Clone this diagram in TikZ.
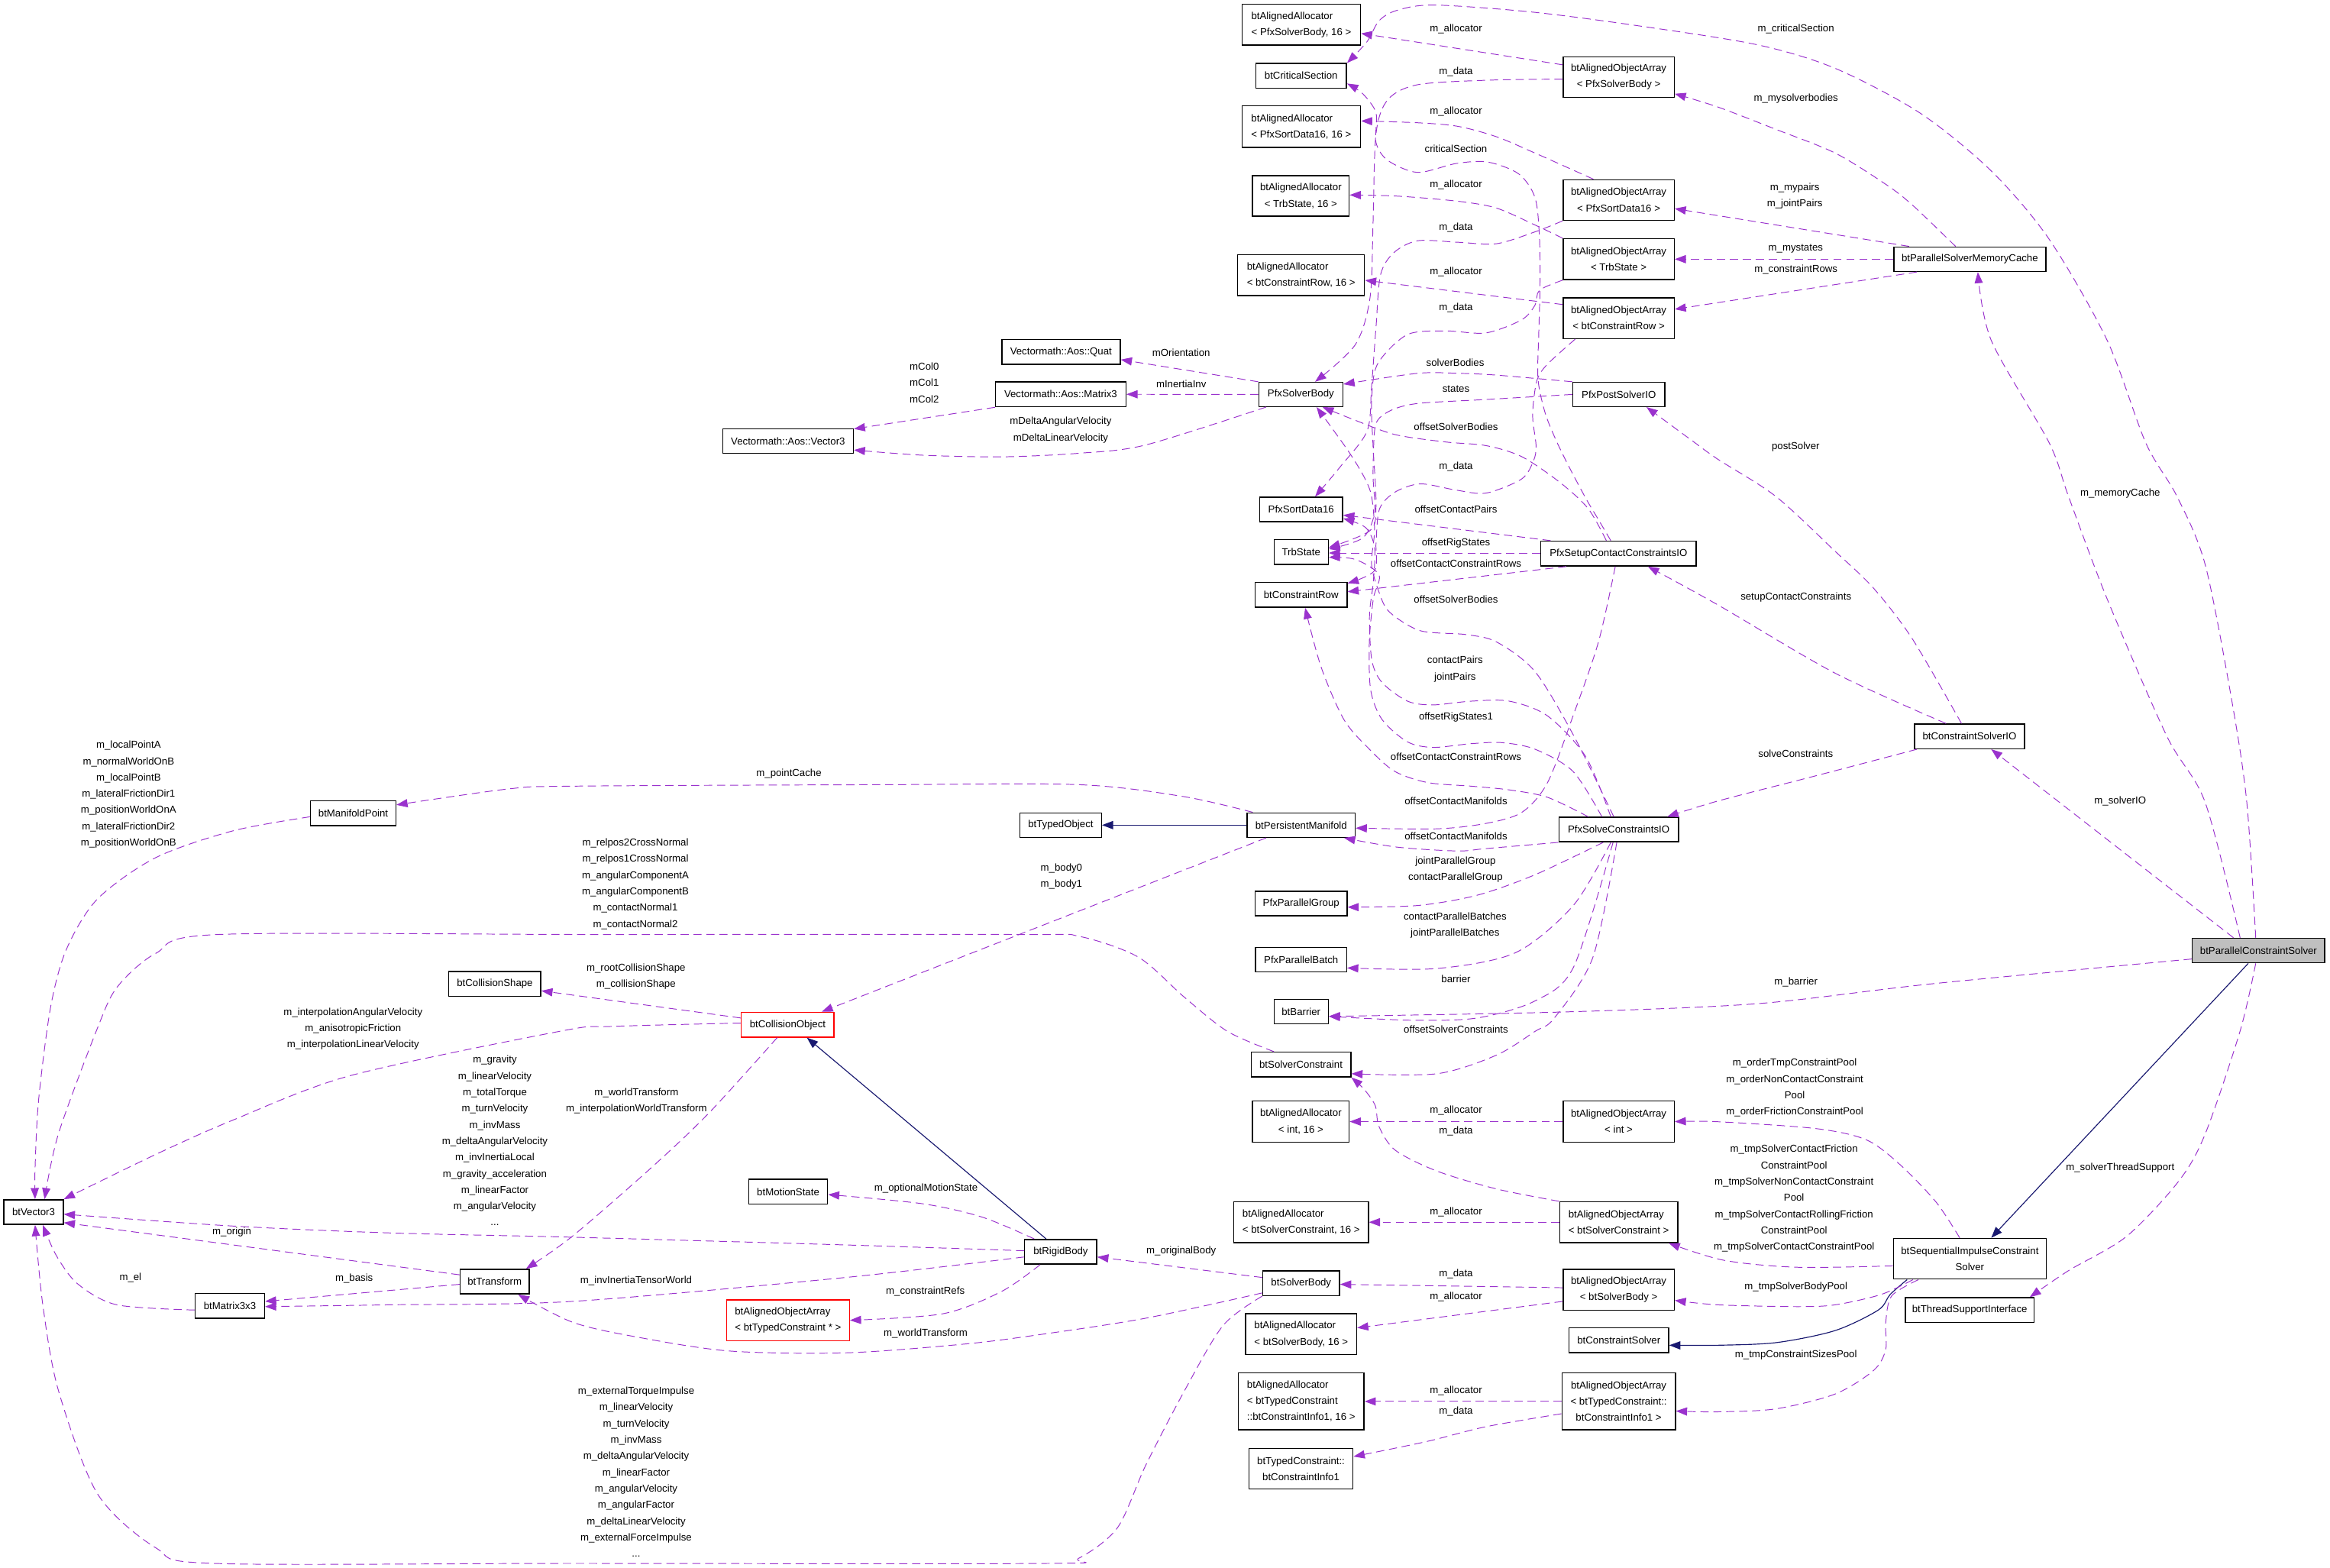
\documentclass[tikz,border=0pt]{standalone}
\usepackage{fontspec}
\setmainfont{Liberation Sans}
\usetikzlibrary{arrows.meta}
\definecolor{epurple}{HTML}{9A32CD}
\definecolor{enavy}{HTML}{191970}
\definecolor{ngray}{HTML}{BFBFBF}
\newcommand{\dxf}{\fontsize{6.8}{10.95}\selectfont}
\tikzset{
 cls/.style={draw=black, line width=0.75pt, fill=white, inner sep=0pt, font=\dxf, align=center},
 redcls/.style={cls, draw=red},
 rel/.style={draw=epurple, line width=0.5pt, dash pattern=on 5.5pt off 3.2pt, -{Triangle[length=7.5pt,width=5.5pt]}},
 inh/.style={draw=enavy, line width=0.6pt, -{Triangle[length=7.5pt,width=5.5pt]}},
 lbl/.style={font=\dxf, inner sep=0pt, align=center},
}
\begin{document}
\begin{tikzpicture}[x=1pt,y=-1pt]
\useasboundingbox (0,0) rectangle (1568,1055);
% ---------- nodes ----------
\node[cls,minimum width=79.7pt,minimum height=27.5pt,align=left] (allocPSB) at (875.7,16.6) {btAlignedAllocator\\< PfxSolverBody, 16 >};
\node[cls,minimum width=61.1pt,minimum height=16.5pt] (critSec) at (875.6,51.0) {btCriticalSection};
\node[cls,minimum width=79.7pt,minimum height=27.8pt,align=left] (allocPSD) at (875.7,85.2) {btAlignedAllocator\\< PfxSortData16, 16 >};
\node[cls,minimum width=65.0pt,minimum height=27.3pt] (allocTrb) at (875.4,131.8) {btAlignedAllocator\\< TrbState, 16 >};
\node[cls,minimum width=85.3pt,minimum height=27.5pt,align=left] (allocCR) at (875.6,185.2) {btAlignedAllocator\\< btConstraintRow, 16 >};
\node[cls,minimum width=56.6pt,minimum height=16.3pt] (psb) at (875.4,265.4) {PfxSolverBody};
\node[cls,minimum width=55.9pt,minimum height=16.5pt] (psd) at (875.6,342.8) {PfxSortData16};
\node[cls,minimum width=36.5pt,minimum height=16.8pt] (trb) at (875.6,371.5) {TrbState};
\node[cls,minimum width=61.7pt,minimum height=16.6pt] (cr) at (875.6,400.3) {btConstraintRow};
\node[cls,minimum width=74.7pt,minimum height=27.3pt] (arrPSB) at (1089.3,51.8) {btAlignedObjectArray\\< PfxSolverBody >};
\node[cls,minimum width=74.7pt,minimum height=27.3pt] (arrPSD) at (1089.3,134.6) {btAlignedObjectArray\\< PfxSortData16 >};
\node[cls,minimum width=74.7pt,minimum height=27.5pt] (arrTrb) at (1089.3,174.4) {btAlignedObjectArray\\< TrbState >};
\node[cls,minimum width=74.7pt,minimum height=27.5pt] (arrCR) at (1089.3,214.1) {btAlignedObjectArray\\< btConstraintRow >};
\node[cls,minimum width=61.9pt,minimum height=16.3pt] (post) at (1089.4,265.4) {PfxPostSolverIO};
\node[cls,minimum width=102.3pt,minimum height=16.5pt] (cache) at (1325.6,174.4) {btParallelSolverMemoryCache};
\node[cls,minimum width=79.7pt,minimum height=16.7pt] (quat) at (714.0,236.7) {Vectormath::Aos::Quat};
\node[cls,minimum width=87.8pt,minimum height=16.8pt] (mat3) at (713.8,265.3) {Vectormath::Aos::Matrix3};
\node[cls,minimum width=87.9pt,minimum height=16.5pt] (vec3) at (530.3,296.9) {Vectormath::Aos::Vector3};
\node[cls,minimum width=104.6pt,minimum height=16.7pt] (setup) at (1089.2,372.5) {PfxSetupContactConstraintsIO};
\node[cls,minimum width=72.7pt,minimum height=16.5pt] (pm) at (875.6,555.2) {btPersistentManifold};
\node[cls,minimum width=80.5pt,minimum height=16.5pt] (solve) at (1089.3,558.2) {PfxSolveConstraintsIO};
\node[cls,minimum width=61.7pt,minimum height=16.5pt] (pg) at (875.6,608.0) {PfxParallelGroup};
\node[cls,minimum width=61.2pt,minimum height=16.5pt] (pb) at (875.6,645.8) {PfxParallelBatch};
\node[cls,minimum width=36.5pt,minimum height=16.5pt] (barrier) at (875.6,680.7) {btBarrier};
\node[cls,minimum width=54.8pt,minimum height=16.5pt] (typed) at (713.8,555.2) {btTypedObject};
\node[redcls,minimum width=62.4pt,minimum height=16.7pt] (colObj) at (530.1,689.5) {btCollisionObject};
\node[cls,minimum width=57.4pt,minimum height=16.5pt] (mp) at (237.7,547.2) {btManifoldPoint};
\node[cls,minimum width=61.9pt,minimum height=16.7pt] (colShape) at (333.0,662.0) {btCollisionShape};
\node[cls,minimum width=74.2pt,minimum height=16.6pt] (csio) at (1325.4,495.5) {btConstraintSolverIO};
\node[cls,fill=ngray,minimum width=89.1pt,minimum height=16.5pt] (pcs) at (1519.9,639.6) {btParallelConstraintSolver};
\node[cls,minimum width=39.9pt,minimum height=16.6pt] (vec) at (22.6,815.6) {btVector3};
\node[cls,minimum width=46.6pt,minimum height=16.6pt] (m33) at (154.7,878.7) {btMatrix3x3};
\node[cls,minimum width=46.5pt,minimum height=16.6pt] (tf) at (332.9,862.4) {btTransform};
\node[cls,minimum width=53.0pt,minimum height=16.8pt] (ms) at (530.4,801.9) {btMotionState};
\node[cls,minimum width=48.5pt,minimum height=16.6pt] (rb) at (713.8,842.3) {btRigidBody};
\node[redcls,minimum width=82.6pt,minimum height=27.6pt,align=left] (arrTCp) at (530.3,888.4) {btAlignedObjectArray\\< btTypedConstraint * >};
\node[cls,minimum width=67.1pt,minimum height=16.6pt] (sc) at (875.5,716.3) {btSolverConstraint};
\node[cls,minimum width=65.0pt,minimum height=27.5pt] (allocInt) at (875.4,754.7) {btAlignedAllocator\\< int, 16 >};
\node[cls,minimum width=74.7pt,minimum height=27.5pt] (arrInt) at (1089.3,754.7) {btAlignedObjectArray\\< int >};
\node[cls,minimum width=90.5pt,minimum height=27.4pt,align=left] (allocSC) at (875.6,822.4) {btAlignedAllocator\\< btSolverConstraint, 16 >};
\node[cls,minimum width=79.5pt,minimum height=27.4pt,align=left] (arrSC) at (1089.3,822.4) {btAlignedObjectArray\\< btSolverConstraint >};
\node[cls,minimum width=51.7pt,minimum height=16.6pt] (sb) at (875.6,863.5) {btSolverBody};
\node[cls,minimum width=74.7pt,minimum height=27.4pt] (arrSB) at (1089.3,867.8) {btAlignedObjectArray\\< btSolverBody >};
\node[cls,minimum width=74.7pt,minimum height=27.5pt,align=left] (allocSB) at (875.6,897.8) {btAlignedAllocator\\< btSolverBody, 16 >};
\node[cls,minimum width=67.1pt,minimum height=16.6pt] (cs) at (1089.4,901.8) {btConstraintSolver};
\node[cls,minimum width=84.7pt,minimum height=38.5pt,align=left] (allocTC) at (875.6,942.9) {btAlignedAllocator\\< btTypedConstraint\\::btConstraintInfo1, 16 >};
\node[cls,minimum width=76.3pt,minimum height=38.5pt] (arrTC) at (1089.3,942.9) {btAlignedObjectArray\\< btTypedConstraint::\\btConstraintInfo1 >};
\node[cls,minimum width=70.0pt,minimum height=27.4pt] (tci) at (875.5,988.3) {btTypedConstraint::\\btConstraintInfo1};
\node[cls,minimum width=102.8pt,minimum height=27.4pt] (sics) at (1325.6,847.0) {btSequentialImpulseConstraint\\Solver};
\node[cls,minimum width=86.7pt,minimum height=16.6pt] (tsi) at (1325.5,881.5) {btThreadSupportInterface};
% ---------- edges ----------
\draw[rel] (arrPSB.west |- 0,43.6) -- (allocPSB.east |- 0,22.5);
\draw[rel] plot[smooth] coordinates {(arrPSB.west |- 0,53.2) (1000,54) (954,57) (934,67) (926,90) (924,150) (922,200) (912,232) (psb.north -| 885,0)};
\draw[rel] plot[smooth] coordinates {(arrPSD.north -| 1072.3,0) (1033,103) (1007,92) (981,85) (954,82.6) (allocPSD.east |- 0,81.4)};
\draw[rel] plot[smooth] coordinates {(arrPSD.south west) (1033,156) (1007,164) (981,163) (954,162) (938,170) (929,185) (926,220) (923,260) (920,290) (902,314) (psd.north -| 885,0)};
\draw[rel] plot[smooth] coordinates {(arrTrb.north west) (1033,151.4) (1007,140) (981,135.4) (941,132) (allocTrb.east |- 0,131.2)};
\draw[rel] plot[smooth] coordinates {(arrTrb.south west) (1036,195.3) (1033,205.3) (1024,215.2) (1000,224) (973,222.7) (947,225.2) (927,245) (923,270) (924,300) (926,340) (922,357) (trb.east |- 0,368.4)};
\draw[rel] (arrCR.west |- 0,204.9) -- (allocCR.east |- 0,188.6);
\draw[rel] plot[smooth] coordinates {(arrCR.south -| 1060,0) (1041.4,245) (1034.6,255) (1032,270) (1031.5,282.5) (1033.7,300) (1032,310) (1024,322.3) (1000,331.8) (980,329.8) (956,325.6) (939,331) (928.4,342.3) (926,365) (925,384) (cr.east |- 0,392.5)};
\draw[rel] plot[smooth] coordinates {(cache.north -| 1316,0) (1287,138) (1269,124) (1235,103) (1195,87) (1156,72) (arrPSB.east |- 0,63.1)};
\draw[rel] (cache.north -| 1284.7,0) -- (arrPSD.east |- 0,140.4);
\draw[rel] (cache.west) -- (arrTrb.east);
\draw[rel] (cache.south -| 1290,0) -- (arrCR.east |- 0,208.1);
\draw[rel] plot[smooth] coordinates {(pcs.north -| 1518,0) (1512,540) (1502,472) (1484,380) (1465,334) (1444,298) (1418,229) (1379,161) (1340,115) (1292,76) (1235,46) (1182,30) (1100,17) (1030,8) (965,3.4) (940,7) (928,14) (920,28) (critSec.north east)};
\draw[rel] plot[smooth] coordinates {(setup.north -| 1084,0) (1075.7,349.7) (1067,335) (1055,312.4) (1046.6,295) (1039.7,277.5) (1035,255) (1035.5,225) (1036.3,195) (1036,160) (1033,133) (1022,117) (1001,109) (980,110) (954,116) (934,108) (926,96) (926,76) (917,63) (critSec.east |- 0,56.2)};
\draw[rel] plot[smooth] coordinates {(csio.north -| 1320,0) (1287,430) (1261,396) (1235,371) (1195,334) (1156,309) (1138,296) (post.south -| 1108,0)};
\draw[rel] plot[smooth] coordinates {(csio.north -| 1309.6,0) (1235,453) (1156,407) (setup.south -| 1109,0)};
\draw[rel] plot[smooth] coordinates {(csio.south -| 1290,0) (1222,522) (1156,539) (solve.north -| 1122,0)};
\draw[rel] plot[smooth] coordinates {(pcs.north -| 1507.5,0) (1484,540) (1458,495) (1418,403) (1392,334) (1379,298) (1340,229) (cache.south -| 1331,0)};
\draw[rel] (pcs.north -| 1503,0) -- (csio.south -| 1340,0);
\draw[rel] plot[smooth] coordinates {(pcs.west |- 0,645.3) (1300,662) (1182,675.4) (1050,681) (barrier.east |- 0,683.9)};
\draw[rel] plot[smooth] coordinates {(pcs.south -| 1518,0) (1507.5,693.7) (1484,763) (1466,795) (1431,832) (1392,855) (tsi.north -| 1366,0)};
\draw[inh] (pcs.south -| 1513,0) -- (sics.north -| 1340,0);
\draw[inh] plot[smooth] coordinates {(sics.south -| 1283.4,0) (1272,871) (1264,881.5) (1235,895.3) (1195.5,903.4) (1156,905.2) (cs.east |- 0,905.2)};
\draw[rel] plot[smooth] coordinates {(sics.north -| 1318.8,0) (1303,809) (1279,784) (1256,767) (1222,759.4) (1156,754.8) (arrInt.east |- 0,754.7)};
\draw[rel] plot[smooth] coordinates {(sics.west |- 0,851.8) (1209,852.7) (1160,848) (arrSC.south -| 1123,0)};
\draw[rel] plot[smooth] coordinates {(sics.south -| 1287.3,0) (1266,871) (1235,878) (1209,879.2) (1156,878) (arrSB.east |- 0,875)};
\draw[rel] plot[smooth] coordinates {(sics.south -| 1291,0) (1273,872) (1269,890) (1269,908) (1261,922) (1235,938) (1195,948) (1156,950) (arrTC.east |- 0,949.5)};
\draw[rel] (arrInt.west) -- (allocInt.east);
\draw[rel] plot[smooth] coordinates {(arrSC.north west) (1007,800) (967,788) (939,774) (928,758) (925.5,744) (918,733) (sc.south east)};
\draw[rel] (arrSC.west) -- (allocSC.east);
\draw[rel] (arrSB.west |- 0,866.5) -- (sb.east |- 0,864.2);
\draw[rel] (arrSB.west |- 0,875.7) -- (allocSB.east |- 0,893.5);
\draw[rel] (arrTC.west |- 0,943) -- (allocTC.east |- 0,943);
\draw[rel] plot[smooth] coordinates {(arrTC.west |- 0,951.3) (1000,960) (960,970) (tci.east |- 0,980.1)};
\draw[rel] (setup.north -| 1043.5,0) -- (psd.east |- 0,346.6);
\draw[rel] (setup.west |- 0,372.1) -- (trb.east |- 0,372.1);
\draw[rel] (setup.south -| 1054,0) -- (cr.east |- 0,398.2);
\draw[rel] plot[smooth] coordinates {(setup.north -| 1081,0) (1068.8,342.3) (1050,324.8) (1024.3,307.4) (1000.3,299.9) (972.9,297.4) (938.7,292.4) (910,282) (psb.south -| 890,0)};
\draw[rel] plot[smooth] coordinates {(setup.south -| 1087,0) (1075.7,431.9) (1058.6,481.7) (1041.4,526.6) (1024.3,546.5) (1000.3,554) (967,557.7) (pm.east |- 0,557.2)};
\draw[rel] plot[smooth] coordinates {(solve.north -| 1086,0) (1058.6,494.2) (1032.9,451.8) (1007.2,432) (986.6,427) (955.8,424.4) (935.2,412) (928.4,399.5) (923,380) (925,357) (923,334) (918,321) (907,303) (psb.south -| 886,0)};
\draw[rel] plot[smooth] coordinates {(solve.north -| 1084,0) (1067.1,509.1) (1041.4,481.7) (1015.7,471.8) (990,471.8) (964.4,474.3) (947.2,471.8) (930.1,459.3) (923.2,444.4) (921.6,414.3) (924.2,391.4) (925,368.4) (919,355) (psd.east |- 0,348.9)};
\draw[rel] plot[smooth] coordinates {(solve.north -| 1078,0) (1058.6,519.1) (1032.9,504.1) (1010.6,499.7) (990,500.4) (964.4,502.9) (947.2,499.2) (930.1,484.2) (922.4,464.3) (921.5,431.9) (924.2,402.8) (928,386.8) (912,376.4) (trb.east |- 0,375)};
\draw[rel] plot[smooth] coordinates {(solve.north -| 1068.8,0) (1041.4,536.5) (1015.7,531.5) (990,529) (960.9,526.6) (938.7,519.1) (921.5,504.1) (904.4,484.2) (889,448.7) (cr.south -| 878.3,0)};
\draw[rel] plot[smooth] coordinates {(solve.south west) (1000,571) (980.6,572.6) (940,570) (pm.south -| 904.5,0)};
\draw[rel] plot[smooth] coordinates {(solve.south -| 1078.9,0) (1033,588.6) (994,602.4) (954,609.3) (pg.east |- 0,610.4)};
\draw[rel] plot[smooth] coordinates {(solve.south -| 1084,0) (1059,609) (1020,641) (967,651.7) (pb.east |- 0,651.3)};
\draw[rel] plot[smooth] coordinates {(solve.south -| 1085.5,0) (1059,650.6) (1033,673.5) (994,685) (950,686.5) (barrier.east |- 0,683.9)};
\draw[rel] plot[smooth] coordinates {(solve.south -| 1088,0) (1072,644) (1046,685) (1033,694) (1007,710) (967,722.5) (sc.east |- 0,722.5)};
\draw[rel] plot[smooth] coordinates {(post.north west) (1007,252.4) (981,251.2) (954,251.2) (psb.east |- 0,258.5)};
\draw[rel] plot[smooth] coordinates {(post.west) (1000.3,268.8) (955.8,271.3) (938.7,275) (928.4,281.2) (925,290) (924,320) (925,345) (917,362) (trb.east |- 0,369.5)};
\draw[inh] (pm.west) -- (typed.east);
\draw[rel] plot[smooth] coordinates {(pm.north -| 843,0) (796.5,536) (726,528) (595,528) (385,529) (341,531) (mp.east |- 0,541.6)};
\draw[rel] (pm.south -| 852,0) -- (colObj.north -| 553,0);
\draw[rel] plot[smooth] coordinates {(mp.west |- 0,549.6) (157,559) (105,577) (65.5,605) (44.6,639) (34,678) (26,740) (23.6,786) (vec.north -| 23.6,0)};
\draw[rel] plot[smooth] coordinates {(sc.north -| 857.3,0) (826,694) (797,671) (766,644) (726,630) (687,628.8) (400,628.8) (147,628.8) (105,641.4) (79,664) (65.5,692) (39.3,763) (vec.north -| 30,0)};
\draw[rel] (colObj.west |- 0,685) -- (colShape.east |- 0,666.7);
\draw[rel] plot[smooth] coordinates {(colObj.west |- 0,688.4) (411,690.7) (378,693.7) (236,723.7) (157,753.6) (105,776.7) (vec.north east)};
\draw[rel] plot[smooth] coordinates {(colObj.south -| 523,0) (477,749) (438,786) (385,832) (tf.north -| 354,0)};
\draw[inh] (rb.north -| 704,0) -- (colObj.south -| 543,0);
\draw[rel] plot[smooth] coordinates {(rb.north -| 696,0) (661,819) (621,810) (ms.east |- 0,803.8)};
\draw[rel] plot[smooth] coordinates {(rb.west |- 0,841.6) (569,837.7) (385,832.5) (262,829.6) (157,825) (vec.east |- 0,817)};
\draw[rel] plot[smooth] coordinates {(rb.west |- 0,845.8) (569,859.6) (385,875.7) (262,878) (m33.east |- 0,879.2)};
\draw[rel] plot[smooth] coordinates {(rb.south -| 700,0) (674,869) (634.5,884) (arrTCp.east |- 0,888.4)};
\draw[rel] (tf.west |- 0,857.8) -- (vec.east |- 0,822.7);
\draw[rel] (tf.west |- 0,864.2) -- (m33.east |- 0,875.7);
\draw[rel] plot[smooth] coordinates {(m33.west |- 0,881.5) (78.7,878) (52.4,864) (38,845) (vec.south -| 28.8,0)};
\draw[rel] (sb.west |- 0,859.6) -- (rb.east |- 0,845.8);
\draw[rel] plot[smooth] coordinates {(sb.west |- 0,870) (771,887) (700,898) (648,904.5) (569,910.3) (490,909) (425,899) (385,889.6) (tf.south -| 348.7,0)};
\draw[rel] plot[smooth] coordinates {(sb.south west) (823,892) (797,936) (771,986) (752,1028) (726,1048.5) (705,1052) (385,1052) (144,1052) (105,1041.6) (65.5,1005) (39.3,935.6) (28.8,878) (vec.south -| 23.6,0)};
\draw[rel] (psb.north west) -- (quat.east |- 0,242);
\draw[rel] (psb.west) -- (mat3.east);
\draw[rel] plot[smooth] coordinates {(psb.south -| 852,0) (771,299.4) (726,305) (674,307.4) (621,306.3) (vec3.east |- 0,302.8)};
\draw[rel] (mat3.south west) -- (vec3.east |- 0,288.6);
% ---------- labels ----------
\node[lbl] (L1) at (979.8,19.3) {m\_allocator};
\node[lbl] (L2) at (979.8,48.2) {m\_data};
\node[lbl] (L3) at (979.8,74.8) {m\_allocator};
\node[lbl] (L4) at (979.8,100.0) {criticalSection};
\node[lbl] (L5) at (979.8,124.6) {m\_allocator};
\node[lbl] (L6) at (979.8,153.2) {m\_data};
\node[lbl] (L7) at (979.8,183.1) {m\_allocator};
\node[lbl] (L8) at (979.8,206.9) {m\_data};
\node[lbl] (L9) at (979.3,243.9) {solverBodies};
\node[lbl] (L10) at (979.8,261.8) {states};
\node[lbl] (L11) at (979.8,287.0) {offsetSolverBodies};
\node[lbl] (L12) at (979.8,313.8) {m\_data};
\node[lbl] (L13) at (979.8,342.5) {offsetContactPairs};
\node[lbl] (L14) at (979.8,365.2) {offsetRigStates};
\node[lbl] (L15) at (979.8,379.0) {offsetContactConstraintRows};
\node[lbl] (L16) at (979.8,403.1) {offsetSolverBodies};
\node[lbl] (L17) at (979.2,450.2) {contactPairs\\jointPairs};
\node[lbl] (L18) at (979.8,482.4) {offsetRigStates1};
\node[lbl] (L19) at (979.8,509.0) {offsetContactConstraintRows};
\node[lbl] (L20) at (979.8,538.9) {offsetContactManifolds};
\node[lbl] (L21) at (979.8,562.5) {offsetContactManifolds};
\node[lbl] (L22) at (979.5,585.3) {jointParallelGroup\\contactParallelGroup};
\node[lbl] (L23) at (979.2,622.7) {contactParallelBatches\\jointParallelBatches};
\node[lbl] (L24) at (979.8,658.8) {barrier};
\node[lbl] (L25) at (979.8,692.5) {offsetSolverConstraints};
\node[lbl] (L26) at (979.8,747.4) {m\_allocator};
\node[lbl] (L27) at (979.8,761.2) {m\_data};
\node[lbl] (L28) at (979.8,815.4) {m\_allocator};
\node[lbl] (L29) at (979.8,857.3) {m\_data};
\node[lbl] (L30) at (979.8,872.7) {m\_allocator};
\node[lbl] (L31) at (979.8,936.1) {m\_allocator};
\node[lbl] (L32) at (979.8,949.9) {m\_data};
\node[lbl] (L33) at (794.9,237.2) {mOrientation};
\node[lbl] (L34) at (794.9,258.3) {mInertiaInv};
\node[lbl] (L35) at (622,257.6) {mCol0\\mCol1\\mCol2};
\node[lbl] (L36) at (713.8,289.4) {mDeltaAngularVelocity\\mDeltaLinearVelocity};
\node[lbl] (L37) at (1208.6,19.3) {m\_criticalSection};
\node[lbl] (L38) at (1208.6,66.1) {m\_mysolverbodies};
\node[lbl] (L39) at (1207.8,131.8) {m\_mypairs\\m\_jointPairs};
\node[lbl] (L40) at (1208.4,167.5) {m\_mystates};
\node[lbl] (L41) at (1208.6,181.2) {m\_constraintRows};
\node[lbl] (L42) at (1208.4,300.5) {postSolver};
\node[lbl] (L43) at (1426.8,332.0) {m\_memoryCache};
\node[lbl] (L44) at (1208.6,402.1) {setupContactConstraints};
\node[lbl] (L45) at (1208.4,507.0) {solveConstraints};
\node[lbl] (L46) at (1426.8,539.3) {m\_solverIO};
\node[lbl] (L47) at (1208.6,661.1) {m\_barrier};
\node[lbl] (L48) at (1207.8,732.0) {m\_orderTmpConstraintPool\\m\_orderNonContactConstraint\\Pool\\m\_orderFrictionConstraintPool};
\node[lbl] (L49) at (1207.3,806.5) {m\_tmpSolverContactFriction\\ConstraintPool\\m\_tmpSolverNonContactConstraint\\Pool\\m\_tmpSolverContactRollingFriction\\ConstraintPool\\m\_tmpSolverContactConstraintPool};
\node[lbl] (L50) at (1208.6,866.0) {m\_tmpSolverBodyPool};
\node[lbl] (L51) at (1208.6,911.9) {m\_tmpConstraintSizesPool};
\node[lbl] (L52) at (1426.8,785.9) {m\_solverThreadSupport};
\node[lbl] (L53) at (86.5,534.6) {m\_localPointA\\m\_normalWorldOnB\\m\_localPointB\\m\_lateralFrictionDir1\\m\_positionWorldOnA\\m\_lateralFrictionDir2\\m\_positionWorldOnB};
\node[lbl] (L54) at (530.9,520.7) {m\_pointCache};
\node[lbl] (L55) at (427.6,594.8) {m\_relpos2CrossNormal\\m\_relpos1CrossNormal\\m\_angularComponentA\\m\_angularComponentB\\m\_contactNormal1\\m\_contactNormal2};
\node[lbl] (L56) at (714.3,589.9) {m\_body0\\m\_body1};
\node[lbl] (L57) at (428,657.1) {m\_rootCollisionShape\\m\_collisionShape};
\node[lbl] (L58) at (237.6,692.3) {m\_interpolationAngularVelocity\\m\_anisotropicFriction\\m\_interpolationLinearVelocity};
\node[lbl] (L59) at (333,767.6) {m\_gravity\\m\_linearVelocity\\m\_totalTorque\\m\_turnVelocity\\m\_invMass\\m\_deltaAngularVelocity\\m\_invInertiaLocal\\m\_gravity\_acceleration\\m\_linearFactor\\m\_angularVelocity\\...};
\node[lbl] (L60) at (428.3,740.8) {m\_worldTransform\\m\_interpolationWorldTransform};
\node[lbl] (L61) at (156.0,829.2) {m\_origin};
\node[lbl] (L62) at (87.8,859.6) {m\_el};
\node[lbl] (L63) at (238.3,860.1) {m\_basis};
\node[lbl] (L64) at (428.1,862.1) {m\_invInertiaTensorWorld};
\node[lbl] (L65) at (623.2,799.9) {m\_optionalMotionState};
\node[lbl] (L66) at (622.7,868.8) {m\_constraintRefs};
\node[lbl] (L67) at (622.9,897.4) {m\_worldTransform};
\node[lbl] (L68) at (794.9,842.1) {m\_originalBody};
\node[lbl] (L69) at (428.1,990.5) {m\_externalTorqueImpulse\\m\_linearVelocity\\m\_turnVelocity\\m\_invMass\\m\_deltaAngularVelocity\\m\_linearFactor\\m\_angularVelocity\\m\_angularFactor\\m\_deltaLinearVelocity\\m\_externalForceImpulse\\...};
\end{tikzpicture}
\end{document}
